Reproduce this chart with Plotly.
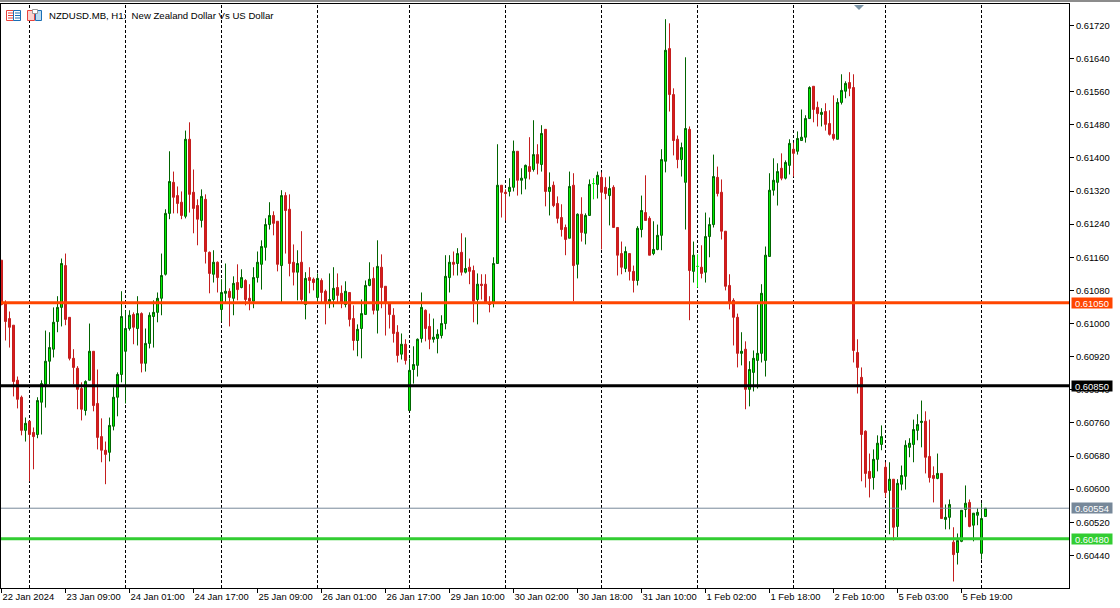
import plotly.graph_objects as go

# Hourly NZDUSD candles, values in price points above 0.60000 (1 point = 0.00001)
BASE = 0.6
POINT = 1e-5

open_pts = [
1153,1049,1012,996,863,822,742,764,737,732,
810,853,909,938,1005,1039,1140,1015,916,892,
843,790,863,933,807,727,694,689,752,822,
877,933,988,1022,988,1024,904,952,1017,1027,
1061,1119,1266,1341,1309,1293,1259,1445,1317,1285,
1249,1300,1172,1119,1148,1034,1073,1078,1061,1099,
1087,1104,1061,1054,1111,1143,1184,1239,1261,1247,
1140,1309,1276,1148,1124,1148,1046,1111,1107,1063,
1104,1078,1051,1058,1087,1073,1046,1075,1012,959,
988,1022,1092,1109,1032,1136,1090,1049,1020,979,
926,950,790,889,899,964,1032,993,962,964,
971,1000,1111,1148,1145,1172,1124,1136,1128,1058,
1095,1095,1051,1051,1145,1334,1317,1319,1329,1416,
1346,1351,1379,1372,1408,1384,1469,1319,1334,1290,
1256,1232,1206,1334,1143,1264,1218,1261,1338,1336,
1353,1329,1309,1329,1232,1169,1133,1169,1126,1104,
1227,1268,1254,1169,1179,1213,1392,1664,1553,1445,
1396,1341,1469,1126,1138,1136,1124,1210,1239,1353,
1317,1223,1092,1056,1015,928,938,841,882,911,
928,911,1162,1322,1341,1375,1351,1382,1421,1416,
1442,1450,1495,1573,1522,1505,1512,1483,1457,1445,
1534,1561,1582,1570,930,870,740,643,628,672,
708,653,597,624,510,612,631,701,708,742,
761,764,679,633,626,638,527,532,472,447,
474,551,568,513,537,445,534]

high_pts = [
1153,1056,1029,996,872,826,773,764,749,822,
863,983,979,1039,1066,1157,1169,1015,938,897,
858,863,1000,933,889,771,715,773,846,882,
1078,1032,1032,1027,1066,1027,988,1027,1056,1075,
1169,1276,1416,1367,1331,1319,1466,1486,1372,1300,
1324,1312,1174,1177,1150,1107,1145,1085,1114,1143,
1131,1107,1095,1136,1174,1201,1254,1293,1271,1247,
1322,1317,1312,1191,1177,1223,1124,1136,1111,1121,
1109,1082,1121,1136,1121,1092,1102,1075,1044,998,
1058,1104,1148,1136,1201,1167,1090,1051,1037,996,
976,962,916,945,964,1075,1034,1024,1012,986,
1020,1165,1165,1174,1182,1218,1208,1157,1140,1121,
1119,1119,1066,1160,1433,1334,1324,1351,1442,1416,
1375,1384,1450,1491,1433,1479,1469,1365,1343,1307,
1288,1239,1367,1363,1266,1305,1266,1348,1351,1367,
1365,1353,1355,1334,1232,1198,1186,1169,1140,1235,
1309,1358,1259,1247,1239,1421,1735,1725,1568,1454,
1437,1643,1476,1198,1167,1189,1268,1256,1408,1379,
1348,1223,1119,1061,1024,979,957,909,935,1046,
1095,1186,1363,1399,1387,1411,1394,1445,1437,1464,
1517,1503,1573,1573,1536,1520,1532,1515,1551,1544,
1602,1585,1607,1602,962,894,742,686,696,730,
754,665,665,624,624,657,718,723,768,781,
814,788,768,655,686,638,563,575,508,493,
549,609,575,542,554,566,554]

low_pts = [
1044,959,942,824,795,730,715,619,648,723,
732,797,853,918,979,993,996,911,853,793,
766,778,863,788,696,665,612,667,742,776,
858,807,983,950,947,882,884,940,942,1003,
1020,1116,1252,1266,1266,1252,1254,1268,1218,1189,
1232,1145,1073,1099,1075,1005,1051,993,1020,1056,
1085,1044,1032,1037,1099,1082,1152,1227,1213,1126,
1051,1169,1114,1092,1056,1051,1010,1073,1080,1051,
1051,998,1037,1039,1049,1037,1039,993,935,921,
916,1022,1090,1022,976,1037,971,988,954,906,
913,901,790,855,872,954,957,938,954,928,
964,986,1075,1116,1116,1116,1121,1095,1003,998,
1058,1051,1027,1039,1145,1256,1249,1307,1319,1309,
1312,1324,1348,1367,1360,1367,1283,1261,1281,1242,
1210,1165,1206,1054,1109,1198,1191,1261,1300,1302,
1179,1300,1237,1232,1116,1119,1124,1104,1075,1092,
1208,1249,1165,1165,1177,1177,1365,1512,1406,1375,
1355,1227,1008,1099,1087,1109,1099,1160,1232,1307,
1203,1080,1034,947,894,899,793,800,836,843,
906,872,1162,1309,1285,1346,1348,1360,1355,1408,
1442,1437,1495,1486,1476,1476,1466,1454,1442,1445,
1529,1544,1549,906,831,619,604,580,599,643,
694,580,491,476,484,597,599,677,665,718,
701,638,616,568,624,529,503,503,377,418,
472,532,508,474,513,430,534]

close_pts = [
1046,1005,991,860,817,742,759,732,727,814,
855,909,942,1003,1039,1145,1010,916,894,841,
793,860,933,802,725,694,684,754,822,877,
1017,988,1020,991,1024,904,952,1020,1027,1061,
1116,1266,1343,1305,1290,1261,1445,1312,1278,1252,
1307,1174,1121,1148,1111,1075,1078,1063,1097,1082,
1111,1058,1054,1111,1148,1186,1239,1261,1242,1143,
1309,1273,1145,1124,1145,1058,1109,1104,1099,1109,
1075,1051,1058,1085,1068,1051,1078,1010,959,986,
1024,1092,1107,1032,1138,1087,1049,1022,976,923,
950,911,887,901,962,1039,988,962,967,974,
1000,1114,1148,1143,1169,1124,1133,1126,1054,1095,
1092,1051,1046,1145,1334,1317,1314,1329,1416,1346,
1351,1382,1367,1408,1387,1459,1319,1329,1285,1254,
1227,1203,1331,1140,1264,1220,1261,1336,1338,1358,
1317,1314,1326,1232,1165,1136,1174,1126,1104,1230,
1273,1249,1165,1179,1213,1396,1660,1553,1442,1396,
1425,1471,1128,1165,1138,1121,1210,1239,1355,1314,
1223,1090,1051,1015,928,933,841,889,916,928,
1073,1165,1322,1346,1367,1351,1389,1435,1411,1447,
1450,1495,1570,1517,1507,1510,1481,1457,1447,1534,
1563,1580,1568,935,894,732,638,626,672,711,
727,592,624,508,614,633,706,711,744,756,
764,677,628,626,638,529,532,563,442,476,
549,566,510,542,544,529,554]

y_tick_prices = [0.61720,0.61640,0.61560,0.61480,0.61400,0.61320,0.61240,0.61160,0.61080,
                 0.61000,0.60920,0.60840,0.60760,0.60680,0.60600,0.60520,0.60440]
x_tick_index = [0,16,32,48,64,80,96,112,128,144,160,176,192,208,224,240]
x_tick_labels = ["22 Jan 2024","23 Jan 09:00","24 Jan 01:00","24 Jan 17:00","25 Jan 09:00",
                 "26 Jan 01:00","26 Jan 17:00","29 Jan 10:00","30 Jan 02:00","30 Jan 18:00",
                 "31 Jan 10:00","1 Feb 02:00","1 Feb 18:00","2 Feb 10:00","5 Feb 03:00","5 Feb 19:00"]
day_separators = [7,31,55,79,102,126,150,174,198,221,245]
price_lines = [(0.61050,"#ff4500",3),(0.60850,"#000000",3),(0.60554,"#778899",1),(0.60480,"#32cd32",3)]
title_text = "NZDUSD.MB, H1:  New Zealand Dollar Vs US Dollar"

W, H = 1120, 608
L, R, T, B = 1, 1069, 4, 588
FONT = "Liberation Sans"
TICK_SIZE = 9.4

def price(a):
    return [BASE + v*POINT for v in a]
def px(x):
    return (x-L)/(R-L)
def py(y):
    return (B-y)/(B-T)

idx = list(range(len(open_pts)))
doji = [i for i in idx if open_pts[i] == close_pts[i]]
body = [i for i in idx if open_pts[i] != close_pts[i]]
def pick(a, ii):
    return [a[i] for i in ii]

fig = go.Figure()
fig.add_trace(go.Candlestick(
    x=body, open=price(pick(open_pts,body)), high=price(pick(high_pts,body)),
    low=price(pick(low_pts,body)), close=price(pick(close_pts,body)),
    increasing=dict(line=dict(color="#006400",width=1), fillcolor="#00f000"),
    decreasing=dict(line=dict(color="#c41e1e",width=1), fillcolor="#d81c1c"),
    whiskerwidth=0, hoverinfo="skip", showlegend=False))
fig.add_trace(go.Candlestick(
    x=doji, open=price(pick(open_pts,doji)), high=price(pick(high_pts,doji)),
    low=price(pick(low_pts,doji)), close=price(pick(close_pts,doji)),
    increasing=dict(line=dict(color="#00f000",width=1), fillcolor="#00f000"),
    decreasing=dict(line=dict(color="#00f000",width=1), fillcolor="#00f000"),
    whiskerwidth=0, hoverinfo="skip", showlegend=False))

shapes = []
for s in day_separators:
    shapes.append(dict(type="line", xref="x", yref="paper", x0=s, x1=s, y0=0, y1=1,
                       layer="below", line=dict(color="#000000", width=1, dash="3px,2px")))
for p,c,w in price_lines:
    shapes.append(dict(type="line", xref="paper", yref="y", x0=0, x1=1, y0=p, y1=p,
                       layer="above", line=dict(color=c, width=w)))

def pshape(kind, x0, y0, x1, y1, fill=None, line=None, lw=1):
    return dict(type=kind, xref="paper", yref="paper", x0=px(x0), x1=px(x1), y0=py(y0), y1=py(y1),
                fillcolor=fill or "rgba(0,0,0,0)", line=dict(color=line or "rgba(0,0,0,0)", width=lw), layer="above")

# window strip, scroll marker
shapes.append(pshape("rect",0,0,1120,2,fill="#8c8c8c"))
shapes.append(dict(type="path", xref="paper", yref="paper",
    path=f"M {px(854)} {py(5)} L {px(864)} {py(5)} L {px(859)} {py(10)} Z",
    fillcolor="#7c96a8", line=dict(width=0), layer="above"))
# header icons
shapes.append(pshape("rect",6.5,10.5,13.5,20.5,fill="#ffffff",line="#e8423c"))
shapes.append(pshape("rect",13.5,10.5,20.5,20.5,fill="#ffffff",line="#1a6fb5"))
for yy in (13,15.5,18):
    shapes.append(pshape("line",8,yy,13,yy,line="#e8423c"))
    shapes.append(pshape("line",15,yy,20,yy,line="#1a6fb5"))
shapes.append(pshape("rect",27.5,10.5,34.5,20.5,fill="#fbd3cf",line="#e8423c"))
shapes.append(pshape("rect",35.5,10.5,41.5,20.5,fill="#bcdcf2",line="#1a6fb5"))
shapes.append(pshape("rect",32.5,9.5,37.5,13.5,fill="#ffffff",line="#999999"))

ann = [dict(xref="paper", yref="paper", x=px(47), y=py(15.5), xanchor="left", yanchor="middle",
            text=title_text, showarrow=False, font=dict(family=FONT,size=9.6,color="#000000"))]
for p,c,w in price_lines:
    ann.append(dict(xref="paper", yref="y", x=px(1071), y=p, xanchor="left", yanchor="middle",
                    text=f"{p:.5f}", showarrow=False, width=40, height=10, borderpad=0,
                    bgcolor=c, font=dict(family=FONT,size=TICK_SIZE,color="#ffffff"), align="center"))

fig.update_layout(
    width=W, height=H, autosize=False,
    margin=dict(l=L, r=W-R, t=T, b=H-B, pad=0),
    paper_bgcolor="#ffffff", plot_bgcolor="#ffffff",
    boxmode="overlay", boxgap=0.5, boxgroupgap=0, showlegend=False,
    shapes=shapes, annotations=ann,
    font=dict(family=FONT,size=TICK_SIZE,color="#000000"),
    xaxis=dict(range=[-0.125,266.875], rangeslider=dict(visible=False), showgrid=False, zeroline=False,
               tickmode="array", tickvals=x_tick_index, ticktext=x_tick_labels,
               ticks="outside", ticklen=4, tickwidth=1, tickcolor="#000000",
               ticklabelposition="outside right", tickangle=0,
               showline=True, mirror=True, linecolor="#000000", linewidth=1,
               tickfont=dict(family=FONT,size=TICK_SIZE,color="#000000")),
    yaxis=dict(range=[0.603613,0.617717], side="right", showgrid=False, zeroline=False,
               tickmode="array", tickvals=y_tick_prices, ticktext=[f"{v:.5f}" for v in y_tick_prices],
               ticks="outside", ticklen=4, tickwidth=1, tickcolor="#000000",
               showline=True, mirror=True, linecolor="#000000", linewidth=1,
               tickfont=dict(family=FONT,size=TICK_SIZE,color="#000000")),
)
fig.write_html("out.html", config=dict(displayModeBar=False),
               post_script="document.body.style.margin='0';document.documentElement.style.overflow='hidden';")
